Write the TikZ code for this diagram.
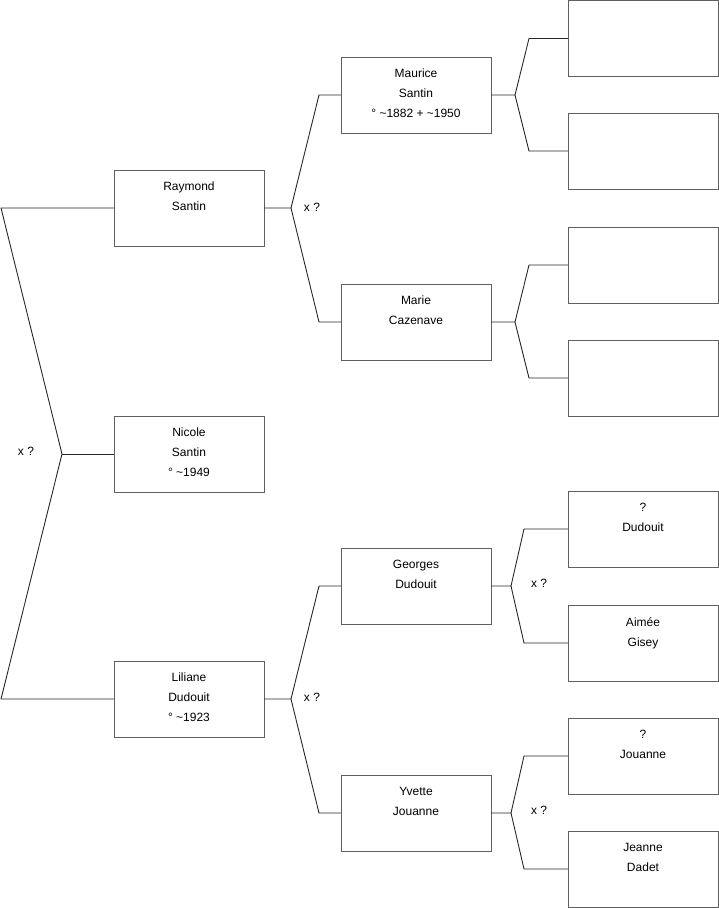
\documentclass[tikz,border=0pt]{standalone}
\usepackage{fontspec}
\setmainfont{Liberation Sans}
\definecolor{boxline}{RGB}{96,96,96}
\definecolor{conn}{RGB}{40,40,40}
\tikzset{
  person/.style={draw=boxline, line width=1pt, minimum width=150pt, minimum height=76pt, inner sep=0pt, outer sep=0pt, anchor=north west, fill=white},
  txt/.style={anchor=north, align=center, inner sep=0pt, font=\fontsize{12}{20}\selectfont},
  conn/.style={draw=conn, line width=0.9pt, line join=round},
  xq/.style={inner sep=0pt, font=\fontsize{12}{14}\selectfont}
}
\newcommand{\pbox}[4]{%
  \node[person] (#1) at (#2,#3) {};
  \node[txt] (#1t) at ([yshift=-12pt]#1.north) {#4};
}
\begin{document}
\begin{tikzpicture}[x=1pt,y=-1pt]
\useasboundingbox (0,0) rectangle (719,908);
% left column
\pbox{raymond}{114}{170}{Raymond\\Santin}
\pbox{nicole}{114}{416}{Nicole\\Santin\\° \textasciitilde1949}
\pbox{liliane}{114}{661}{Liliane\\Dudouit\\° \textasciitilde1923}
% middle column
\pbox{maurice}{341}{57}{Maurice\\Santin\\° \textasciitilde1882 + \textasciitilde1950}
\pbox{marie}{341}{284}{Marie\\Cazenave}
\pbox{georges}{341}{548}{Georges\\Dudouit}
\pbox{yvette}{341}{775}{Yvette\\Jouanne}
% right column
\pbox{ra}{568}{0.5}{}
\pbox{rb}{568}{113}{}
\pbox{rc}{568}{227}{}
\pbox{rd}{568}{340}{}
\pbox{re}{568}{491}{?\\Dudouit}
\pbox{rf}{568}{605}{Aimée\\Gisey}
\pbox{rg}{568}{718}{?\\Jouanne}
\pbox{rh}{568}{831}{Jeanne\\Dadet}
% fork points
\coordinate (fL) at (62,454);
\coordinate (fR) at (291,208);
\coordinate (fLi) at (291,699);
\coordinate (fM) at (515,95);
\coordinate (fMa) at (515,322);
\coordinate (fG) at (511,586);
\coordinate (fY) at (511,813);
% connectors
\draw[conn] (raymond.west) -- ([xshift=-113pt]raymond.west) -- (fL) -- ([xshift=-113pt]liliane.west) -- (liliane.west);
\draw[conn] (fL) -- (nicole.west);
\draw[conn] (raymond.east) -- (fR) -- ([xshift=-22pt]maurice.west) -- (maurice.west);
\draw[conn] (fR) -- ([xshift=-22pt]marie.west) -- (marie.west);
\draw[conn] (liliane.east) -- (fLi) -- ([xshift=-22pt]georges.west) -- (georges.west);
\draw[conn] (fLi) -- ([xshift=-22pt]yvette.west) -- (yvette.west);
\draw[conn] (maurice.east) -- (fM) -- ([xshift=-39pt]ra.west) -- (ra.west);
\draw[conn] (fM) -- ([xshift=-39pt]rb.west) -- (rb.west);
\draw[conn] (marie.east) -- (fMa) -- ([xshift=-39pt]rc.west) -- (rc.west);
\draw[conn] (fMa) -- ([xshift=-39pt]rd.west) -- (rd.west);
\draw[conn] (georges.east) -- (fG) -- ([xshift=-44pt]re.west) -- (re.west);
\draw[conn] (fG) -- ([xshift=-44pt]rf.west) -- (rf.west);
\draw[conn] (yvette.east) -- (fY) -- ([xshift=-44pt]rg.west) -- (rg.west);
\draw[conn] (fY) -- ([xshift=-44pt]rh.west) -- (rh.west);
% marriage labels
\node[xq] (x1) at (26,451) {x ?};
\node[xq] (x2) at (312,207) {x ?};
\node[xq] (x3) at (312,697) {x ?};
\node[xq] (x4) at (539,583) {x ?};
\node[xq] (x5) at (539,810) {x ?};
\end{tikzpicture}
\end{document}
